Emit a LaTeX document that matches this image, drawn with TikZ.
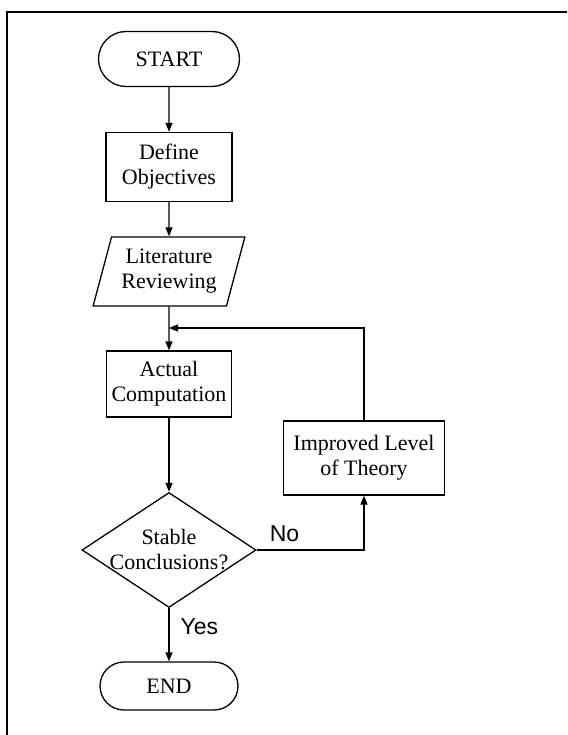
\documentclass[tikz,border=0pt]{standalone}
\usepackage{fontspec}
\setmainfont{Liberation Serif}
\newfontfamily\labfont{Liberation Sans}
\usetikzlibrary{shapes.geometric,shapes.misc,arrows.meta}
\begin{document}
\begin{tikzpicture}[x=1pt,y=1pt,
  every node/.style={font=\fontsize{22}{25}\selectfont, align=center},
  term/.style={rounded rectangle, draw, line width=1.3pt, inner sep=0pt},
  proc/.style={rectangle, draw, line width=1.3pt, inner sep=0pt},
  io/.style={trapezium, trapezium left angle=71, trapezium right angle=109, trapezium stretches=true, draw, line width=1.3pt, inner sep=0pt},
  decide/.style={diamond, draw, line width=1.3pt, inner sep=0pt},
  conn/.style={line width=1.3pt, -{Triangle[length=9pt,width=7pt]}},
  lab/.style={font=\labfont\fontsize{23}{25}\selectfont, inner sep=0pt}
]
\useasboundingbox (0,0) rectangle (567,-735);
\draw[line width=1.6pt] (7,-735) -- (7,-12) -- (567,-12);

\node[term, minimum width=141pt, minimum height=55pt] (start) at (169,-59) {START};
\node[proc, minimum width=126pt, minimum height=69pt] (def) at (169,-167) {Define\\Objectives};
\node[io, minimum width=152pt, minimum height=69pt] (lit) at (169,-271.5) {Literature\\Reviewing};
\node[proc, minimum width=125pt, minimum height=66pt] (act) at (169,-384) {Actual\\Computation};
\node[proc, minimum width=161pt, minimum height=74pt] (imp) at (364,-458) {Improved Level\\of Theory};
\node[decide, minimum width=174pt, minimum height=115pt,
      label={[align=center]center:Stable\\Conclusions?}] (dec) at (169,-550) {};
\node[term, minimum width=138pt, minimum height=48pt] (end) at (169,-686) {END};
\coordinate (j) at (169,-328);

\draw[conn] (start) -- (def);
\draw[conn] (def) -- (lit);
\draw[conn] (lit) -- (act);
\draw[conn] (imp.north) |- (j);
\draw[conn] (act) -- (dec);
\draw[conn] (dec.east) -| node[lab, pos=0.13, above=8pt] {No} (imp.south);
\draw[conn] (dec.south) -- node[lab, pos=0.35, right=11pt] {Yes} (end.north);
\end{tikzpicture}
\end{document}
